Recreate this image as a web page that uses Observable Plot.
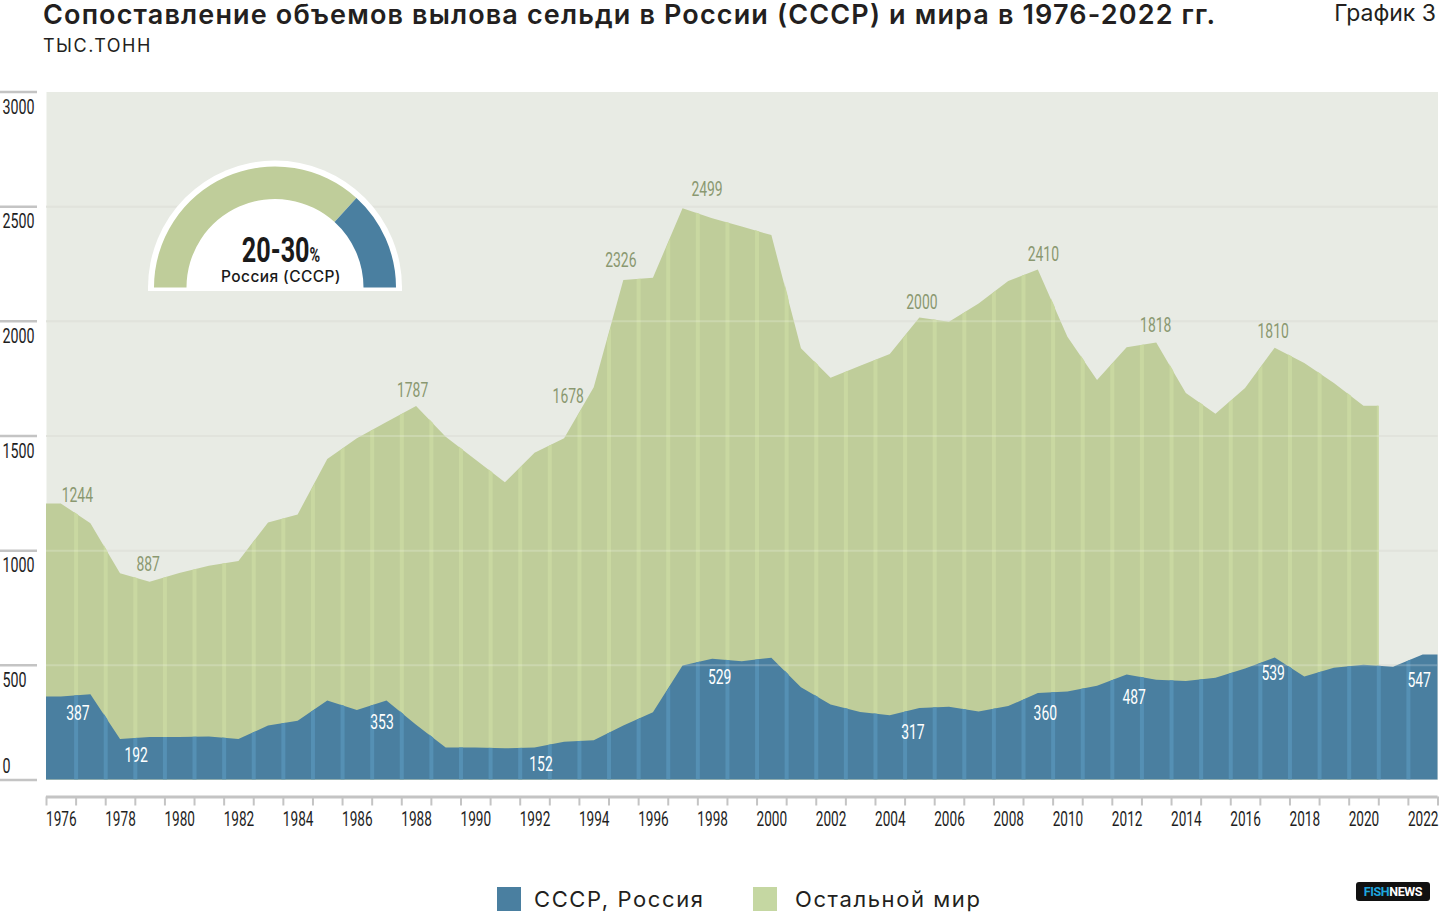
<!DOCTYPE html>
<html>
<head>
<meta charset="utf-8">
<script src="https://cdn.jsdelivr.net/npm/d3@7"></script>
<script src="https://cdn.jsdelivr.net/npm/@observablehq/plot@0.6"></script>
<style>
  html, body { margin: 0; padding: 0; background: #ffffff; width: 1440px; height: 912px; overflow: hidden; }
  #page { position: relative; width: 1440px; height: 912px; font-family: "Inter", "Noto Sans", sans-serif; color: #231f20; }
  .title { position: absolute; left: 43px; top: 1px; font-size: 27px; line-height: 27px; font-weight: 600; letter-spacing: 1.15px; white-space: nowrap; }
  .sub { position: absolute; left: 43px; top: 37px; font-size: 18px; line-height: 18px; font-weight: 400; letter-spacing: 1.5px; white-space: nowrap; }
  .num { position: absolute; right: 4px; top: 2px; font-size: 23px; line-height: 23px; font-weight: 400; white-space: nowrap; }
  #chart { position: absolute; left: 0; top: 60px; }
  #gauge { position: absolute; left: 145px; top: 155px; }
  .legend-item { position: absolute; top: 887px; height: 24px; display: flex; align-items: center; white-space: nowrap; font-size: 22px; font-weight: 400; letter-spacing: 1.6px; color: #231f20; }
  .legend-item .sw { width: 24px; height: 24px; flex: none; }
  .logo { position: absolute; left: 1356px; top: 882px; width: 74px; height: 19px; background: #111; border-radius: 3px;
          font-family: "Roboto", sans-serif; font-weight: 700; font-size: 12.5px; line-height: 19px; text-align: center; color: #fff; letter-spacing: -0.4px; }
  .logo .f { color: #1ea6de; }
</style>
</head>
<body>
<div id="page">
  <div class="title">Сопоставление объемов вылова сельди в России (СССР) и мира в 1976-2022 гг.</div>
  <div class="sub">ТЫС.ТОНН</div>
  <div class="num">График 3</div>
  <div id="chart"></div>
  <svg id="gauge" width="265" height="145"></svg>
  <div id="legend"></div>
  <div class="logo"><span class="f">FISH</span>NEWS</div>
</div>
<script>
// ---------------- DATA ----------------
const years = [1976,1977,1978,1979,1980,1981,1982,1983,1984,1985,
               1986,1987,1988,1989,1990,1991,1992,1993,1994,1995,
               1996,1997,1998,1999,2000,2001,2002,2003,2004,2005,
               2006,2007,2008,2009,2010,2011,2012,2013,2014,2015,
               2016,2017,2018,2019,2020,2021,2022];

// total world catch (top of green area), 1976-2020
const world = [1204,1117,899,862,900,932,953,1121,1156,1398,
               1488,1559,1629,1495,1395,1296,1425,1488,1710,2178,
               2188,2491,2447,2411,2374,1880,1752,1804,1855,2015,
               1996,2076,2174,2224,1931,1742,1885,1906,1685,1595,
               1707,1883,1816,1729,1630];

// USSR / Russia catch (blue area), 1976-2022
const russia = [362,372,177,185,185,187,177,235,256,344,
                303,344,239,140,140,136,139,165,171,235,
                293,497,526,516,531,402,327,294,280,312,
                317,297,320,377,384,409,458,435,430,444,
                484,532,449,487,500,492,545];

const worldLabelYears = [1976,1979,1988,1994,1995,1997,2005,2009,2013,2017];
const worldLabelTexts = ["1244","887","1787","1678","2326","2499","2000","2410","1818","1810"];

const russiaLabelYears = [1977,1979,1987,1992,1998,2005,2009,2012,2017,2022];
const russiaLabelTexts = ["387","192","353","152","529","317","360","487","539","547"];

const yTicks = [0,500,1000,1500,2000,2500,3000];
const xLabelYears = [1976,1978,1980,1982,1984,1986,1988,1990,1992,1994,1996,1998,2000,
                     2002,2004,2006,2008,2010,2012,2014,2016,2018,2020,2022];

const seriesNames = ["СССР, Россия", "Остальной мир"];
const gaugeText = "20-30";
const gaugeSub = "Россия (СССР)";
const gaugeShare = [0.265, 0.735]; // Russia, rest of world

// ---------------- STYLE / LAYOUT ----------------
const C = {
  bg: "#e8ebe4", green: "#bfcd9a", greenStripe: "#c9d8a1",
  blue: "#4a7fa0", blueStripe: "#5590b4", grid: "#dadcd4",
  axis: "#c4c4c4", worldText: "#8a9870", text: "#1e1e1e"
};
const numFont = "Roboto, sans-serif";
const CONDENSE = 0.68;
// label nudges (px) relative to the data vertex
const worldNudge = [[16,-8],[-2,-18],[-4,-16],[-26,9],[-3,-20],[24,-19],[2,-15],[5,-16],[-1,-17],[-2,-17]];
const russiaNudge = [[-13,19],[-14,18],[-5,21],[6,16],[7,18],[-7,24],[7,20],[7,22],[-2,15],[-4,25]];

// ---------------- BUILD ----------------
const worldRows = world.map((v, i) => ({x: years[i] + 0.5, v}));
const worldExt = [{x: years[0], v: world[0]}, ...worldRows, {x: years[world.length - 1] + 1, v: world[world.length - 1]}];
const russiaRows = russia.map((v, i) => ({x: years[i] + 0.5, v}));
const russiaExt = [{x: years[0], v: russia[0]}, ...russiaRows, {x: years[russia.length - 1] + 1, v: russia[russia.length - 1]}];

const edges = years.slice(1);                                   // band boundaries between years
const tickYears = years.concat([years[years.length - 1] + 1]);  // all band edges

const worldLabels = worldLabelYears.map((y, i) => ({x: y + 0.5, v: world[years.indexOf(y)], t: worldLabelTexts[i], dx: worldNudge[i][0], dy: worldNudge[i][1]}));
const russiaLabels = russiaLabelYears.map((y, i) => ({x: y + 0.5, v: russia[years.indexOf(y)], t: russiaLabelTexts[i], dx: russiaNudge[i][0], dy: russiaNudge[i][1]}));

const labelMarks = (rows, fill) => rows.map(d => Plot.text([d], {
  x: "x", y: "v", text: "t", dx: d.dx, dy: d.dy, fill, fontSize: 20.5, fontFamily: numFont
}));

const svg = Plot.plot({
  width: 1440, height: 780,
  marginLeft: 46, marginRight: 2.5, marginTop: 31.5, marginBottom: 60.5,
  x: {domain: [1976, 2023]},
  y: {domain: [0, 3000]},
  style: {background: "transparent", overflow: "visible", fontFamily: numFont},
  marks: [
    Plot.frame({fill: C.bg, stroke: "none"}),
    Plot.ruleY(yTicks.slice(1, -1), {stroke: C.grid, strokeWidth: 2}),
    Plot.areaY(worldExt, {x: "x", y: "v", fill: C.green}),
    Plot.ruleX(edges, {x: d => d, y1: 0, y2: 3000, stroke: C.greenStripe, strokeWidth: 4}),
    Plot.areaY(russiaExt, {x: "x", y: "v", fill: C.blue}),
    Plot.ruleX(edges, {x: d => d, y1: 0, y2: 3000, stroke: C.blueStripe, strokeWidth: 4}),
    Plot.ruleY(yTicks.slice(1, -1), {stroke: "#ffffff", strokeOpacity: 0.2, strokeWidth: 2}),
    ...labelMarks(worldLabels, C.worldText),
    ...labelMarks(russiaLabels, "#ffffff"),
    Plot.ruleY([0], {dy: 17, stroke: C.axis, strokeWidth: 3}),
    Plot.axisX({ticks: tickYears, tickSize: 9, dy: 17, tickFormat: () => "", stroke: C.axis, strokeWidth: 2, label: null}),
    Plot.text(xLabelYears, {x: d => d + 0.5, frameAnchor: "bottom", lineAnchor: "middle", dy: 40, text: d => String(d), fill: C.text, fontSize: 20, fontFamily: numFont}),
    Plot.axisY({ticks: yTicks, tickSize: 37, dx: -9, tickFormat: () => "", stroke: C.axis, strokeWidth: 2.5, label: null}),
    Plot.text(yTicks.slice(1), {y: d => d, frameAnchor: "left", lineAnchor: "middle", dx: -44, dy: 15, text: d => String(d), textAnchor: "start", fill: C.text, fontSize: 21, fontFamily: numFont}),
    Plot.text(yTicks.slice(0, 1), {y: d => d, frameAnchor: "left", lineAnchor: "middle", dx: -44, dy: -14, text: d => String(d), textAnchor: "start", fill: C.text, fontSize: 21, fontFamily: numFont})
  ]
});
document.getElementById("chart").appendChild(svg);

// condensed look for numeric texts: horizontal scale around each text anchor
svg.querySelectorAll('g[aria-label="text"] text').forEach(el => {
  const tr = el.getAttribute("transform");
  if (tr) {
    el.setAttribute("transform", tr + ` scale(${CONDENSE},1)`);
  } else {
    const x = +el.getAttribute("x") || 0, y = +el.getAttribute("y") || 0;
    el.removeAttribute("x"); el.removeAttribute("y");
    el.setAttribute("transform", `translate(${x},${y}) scale(${CONDENSE},1)`);
  }
});

// clip the stripe rules to their areas
(function () {
  const ns = "http://www.w3.org/2000/svg";
  const defs = document.createElementNS(ns, "defs");
  svg.insertBefore(defs, svg.firstChild);
  const areas = svg.querySelectorAll('g[aria-label="area"]');
  const rules = svg.querySelectorAll('g[aria-label="rule"]');
  // rules order: grid(0), green stripes(1), blue stripes(2), ...
  const pairs = [[areas[0], rules[1], "clipGreen"], [areas[1], rules[2], "clipBlue"]];
  for (const [a, r, id] of pairs) {
    if (!a || !r) continue;
    const cp = document.createElementNS(ns, "clipPath");
    cp.setAttribute("id", id);
    const p = a.querySelector("path").cloneNode(false);
    if (a.getAttribute("transform")) p.setAttribute("transform", a.getAttribute("transform"));
    cp.appendChild(p);
    defs.appendChild(cp);
    r.setAttribute("clip-path", `url(#${id})`);
  }
})();

// ---------------- GAUGE ----------------
(function () {
  const g = d3.select("#gauge").append("g").attr("transform", "translate(130,132.5)");
  g.append("path").attr("d", d3.arc()({innerRadius: 0, outerRadius: 127, startAngle: -Math.PI / 2, endAngle: Math.PI / 2})).attr("fill", "#fff");
  g.append("rect").attr("x", -127).attr("y", -1).attr("width", 254).attr("height", 4.5).attr("fill", "#fff");
  const split = Math.PI / 2 - gaugeShare[0] * Math.PI;
  const arc = d3.arc().innerRadius(88.5).outerRadius(121);
  g.append("path").attr("d", arc({startAngle: -Math.PI / 2, endAngle: split})).attr("fill", C.green);
  g.append("path").attr("d", arc({startAngle: split, endAngle: Math.PI / 2})).attr("fill", C.blue);
  const t = g.append("text").attr("transform", "translate(6,-26) scale(0.72,1)").attr("text-anchor", "middle")
    .attr("font-family", numFont).attr("font-weight", 700).attr("fill", "#1a1a1a");
  t.append("tspan").attr("font-size", 35).text(gaugeText);
  t.append("tspan").attr("font-size", 20).text("%");
  g.append("text").attr("x", 6).attr("y", -5.5).attr("text-anchor", "middle")
    .attr("font-family", "Inter, 'Noto Sans', sans-serif").attr("font-weight", 500).attr("font-size", 15.5)
    .attr("letter-spacing", 0.4).attr("fill", "#1a1a1a").text(gaugeSub);
})();

// ---------------- LEGEND ----------------
(function () {
  const legend = document.getElementById("legend");
  const colors = [C.blue, "#c5d7a2"];
  const lefts = [497, 753];
  const gaps = [13, 18];
  seriesNames.forEach((name, i) => {
    const item = document.createElement("div");
    item.className = "legend-item";
    item.style.left = lefts[i] + "px";
    item.innerHTML = `<span class="sw" style="background:${colors[i]};margin-right:${gaps[i]}px"></span><span>${name}</span>`;
    legend.appendChild(item);
  });
})();
</script>
</body>
</html>
